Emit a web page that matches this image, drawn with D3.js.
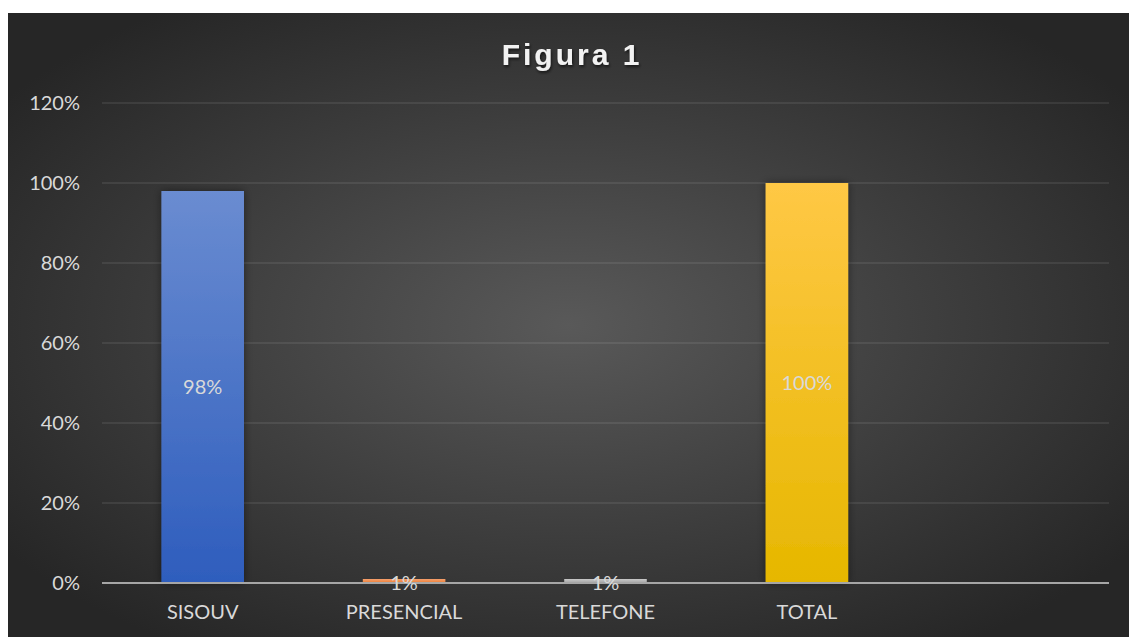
<!DOCTYPE html>
<html lang="pt">
<head>
  <meta charset="utf-8">
  <title>Figura 1</title>
  <script src="https://d3js.org/d3.v7.min.js"></script>
  <style>
    html, body { margin: 0; padding: 0; background: #fff; }
    #chart { display: block; }
    .tick text { font-family: Lato, "Open Sans", sans-serif; }
  </style>
</head>
<body>
  <svg id="chart" width="1129" height="637"></svg>
  <script>
    // data
    const categories = ['SISOUV', 'PRESENCIAL', 'TELEFONE', 'TOTAL', ''];
    const values = [0.98, 0.01, 0.01, 1.00, null];
    const labels = ['98%', '1%', '1%', '100%', ''];
    const yTicks = [0, 0.2, 0.4, 0.6, 0.8, 1.0, 1.2];

    const svg = d3.select('#chart');
    const defs = svg.append('defs');

    // background
    const bg = defs.append('radialGradient').attr('id', 'bg')
      .attr('cx', '50%').attr('cy', '50%').attr('r', '62%');
    bg.append('stop').attr('offset', '0%').attr('stop-color', '#595959');
    bg.append('stop').attr('offset', '100%').attr('stop-color', '#262626');
    svg.append('rect').attr('x', 8).attr('y', 13).attr('width', 1121).attr('height', 624)
      .attr('fill', 'url(#bg)');

    const fills = [
      ['#6a8cd1', '#2e5dbd'],
      ['#f5a06e', '#ed7d31'],
      ['#c8c8c8', '#a5a5a5'],
      ['#ffc845', '#e6b700'],
      ['#888', '#888']
    ];
    fills.forEach((c, i) => {
      const g = defs.append('linearGradient').attr('id', 'g' + i)
        .attr('x1', 0).attr('y1', 0).attr('x2', 0).attr('y2', 1);
      g.append('stop').attr('offset', '0%').attr('stop-color', c[0]);
      g.append('stop').attr('offset', '100%').attr('stop-color', c[1]);
    });
    const sh = defs.append('filter').attr('id', 'shadow')
      .attr('x', '-30%').attr('y', '-10%').attr('width', '160%').attr('height', '120%');
    sh.append('feDropShadow').attr('dx', 0).attr('dy', 0).attr('stdDeviation', 4)
      .attr('flood-color', '#000').attr('flood-opacity', 0.45);

    const x = d3.scaleBand().domain(categories.map((d, i) => i))
      .range([102, 1109]).paddingInner(0.59).paddingOuter(0.295);
    const y = d3.scaleLinear().domain([0, 1.2]).range([583, 103]);

    // gridlines
    svg.append('g')
      .selectAll('line').data(yTicks.filter(t => t > 0)).join('line')
      .attr('x1', 102).attr('x2', 1109)
      .attr('y1', d => y(d)).attr('y2', d => y(d))
      .attr('stroke', '#ffffff').attr('stroke-opacity', 0.08).attr('stroke-width', 2);

    // y axis labels
    const yAxis = svg.append('g').attr('transform', 'translate(102,0)')
      .call(d3.axisLeft(y).tickValues(yTicks).tickFormat(d3.format('.0%')).tickSize(0).tickPadding(22));
    yAxis.select('.domain').remove();
    yAxis.selectAll('text').attr('fill', '#d9d9d9').style('font-size', '20px');

    // bars
    const data = categories.map((c, i) => ({ c, i, v: values[i], l: labels[i] }))
      .filter(d => d.v !== null);
    svg.append('g').selectAll('rect').data(data).join('rect')
      .attr('x', d => x(d.i))
      .attr('y', d => y(d.v))
      .attr('width', x.bandwidth())
      .attr('height', d => y(0) - y(d.v))
      .attr('fill', d => `url(#g${d.i})`)
      .attr('filter', d => d.v > 0.05 ? 'url(#shadow)' : null);

    // x axis
    const xAxis = svg.append('g').attr('transform', 'translate(0,583)')
      .call(d3.axisBottom(x).tickFormat(i => categories[i]).tickSize(0).tickPadding(22));
    xAxis.select('.domain').remove();
    xAxis.selectAll('text').attr('fill', '#d9d9d9').style('font-size', '20px');
    svg.append('line').attr('x1', 102).attr('x2', 1109).attr('y1', 583).attr('y2', 583)
      .attr('stroke', '#a6a6a6').attr('stroke-width', 2);

    // data labels
    svg.append('g').selectAll('text').data(data).join('text')
      .attr('x', d => x(d.i) + x.bandwidth() / 2)
      .attr('y', d => d.v > 0.05 ? (y(d.v) + y(0)) / 2 : y(0))
      .attr('dy', '0.35em')
      .attr('text-anchor', 'middle')
      .attr('fill', '#d9d9d9')
      .style('font-family', 'Lato, "Open Sans", sans-serif')
      .style('font-size', '20px')
      .text(d => d.l);

    // title
    defs.append('filter').attr('id', 'tshadow')
      .append('feDropShadow').attr('dx', 1).attr('dy', 2).attr('stdDeviation', 1.5)
      .attr('flood-color', '#000').attr('flood-opacity', 0.6);
    svg.append('text')
      .attr('x', 572).attr('y', 65)
      .attr('text-anchor', 'middle')
      .attr('fill', '#f2f2f2')
      .attr('filter', 'url(#tshadow)')
      .style('font-family', 'Liberation Sans, Arial, sans-serif')
      .style('font-weight', 'bold')
      .style('font-size', '30px')
      .style('letter-spacing', '3px')
      .text('Figura 1');
  </script>
</body>
</html>
